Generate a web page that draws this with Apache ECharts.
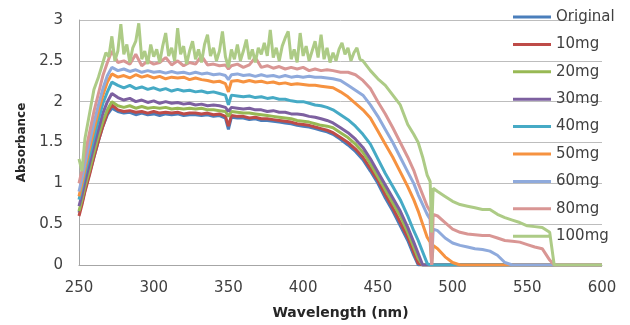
<!DOCTYPE html>
<html>
<head>
<meta charset="utf-8">
<script src="https://cdn.jsdelivr.net/npm/echarts@6/dist/echarts.min.js"></script>
<style>
  html, body { margin: 0; padding: 0; background: #fff; }
  #chart { width: 630px; height: 325px; }
</style>
</head>
<body>
<div id="chart"></div>
<script>
// wavelength sample points (nm), shared by the first eight series
const wl = [
  250, 252, 254, 257, 260, 263, 266, 269, 272,
  276, 280, 284, 288, 292, 296, 300, 304, 308, 312, 316, 320, 324, 328, 332, 336, 340, 344, 348, 350, 352,
  356, 360, 364, 368, 372, 376, 380, 384, 388, 392, 396, 400, 404, 408, 412, 416, 420,
  425, 430, 435, 440, 445, 450, 455, 460, 465, 470, 474, 477, 480, 483, 485, 486, 487,
  490, 495, 500, 505, 510, 515, 520, 525, 530, 535, 540, 545, 550, 555, 560, 565, 568, 570, 600
];

const original = [
  0.64, 0.76, 0.92, 1.12, 1.32, 1.52, 1.70, 1.84, 1.92,
  1.88, 1.86, 1.87, 1.84, 1.86, 1.84, 1.85, 1.83, 1.85, 1.84, 1.85, 1.83, 1.84, 1.84, 1.83, 1.84, 1.82, 1.83, 1.80, 1.66, 1.81,
  1.80, 1.80, 1.78, 1.79, 1.77, 1.77, 1.76, 1.75, 1.74, 1.73, 1.71, 1.70, 1.69, 1.67, 1.65, 1.63, 1.60,
  1.54, 1.47, 1.39, 1.29, 1.15, 1.00, 0.82, 0.66, 0.48, 0.30, 0.12, 0, 0, 0, 0, 0, 0,
  0, 0, 0, 0, 0, 0, 0, 0, 0, 0, 0, 0, 0, 0, 0, 0, 0, 0, 0
];
const mg10 = [
  0.60, 0.74, 0.90, 1.10, 1.32, 1.52, 1.70, 1.86, 1.96,
  1.90, 1.88, 1.89, 1.87, 1.88, 1.86, 1.88, 1.86, 1.87, 1.86, 1.87, 1.85, 1.86, 1.86, 1.85, 1.86, 1.84, 1.85, 1.82, 1.70, 1.83,
  1.82, 1.82, 1.80, 1.81, 1.79, 1.79, 1.78, 1.77, 1.76, 1.75, 1.73, 1.72, 1.71, 1.69, 1.67, 1.65, 1.62,
  1.56, 1.50, 1.42, 1.32, 1.18, 1.04, 0.86, 0.70, 0.52, 0.34, 0.16, 0.02, 0, 0, 0, 0, 0,
  0, 0, 0, 0, 0, 0, 0, 0, 0, 0, 0, 0, 0, 0, 0, 0, 0, 0, 0
];
const mg20 = [
  0.66, 0.80, 0.96, 1.16, 1.38, 1.58, 1.76, 1.90, 2.00,
  1.95, 1.93, 1.95, 1.92, 1.94, 1.92, 1.93, 1.92, 1.93, 1.91, 1.92, 1.91, 1.92, 1.91, 1.92, 1.90, 1.90, 1.89, 1.88, 1.82, 1.88,
  1.87, 1.86, 1.86, 1.85, 1.84, 1.83, 1.82, 1.81, 1.80, 1.79, 1.77, 1.76, 1.75, 1.73, 1.71, 1.70, 1.68,
  1.62, 1.56, 1.48, 1.38, 1.24, 1.08, 0.92, 0.76, 0.60, 0.40, 0.22, 0.08, 0, 0, 0, 0, 0,
  0, 0, 0, 0, 0, 0, 0, 0, 0, 0, 0, 0, 0, 0, 0, 0, 0, 0, 0
];
const mg30 = [
  0.72, 0.86, 1.02, 1.24, 1.46, 1.66, 1.86, 2.00, 2.10,
  2.05, 2.02, 2.04, 2.00, 2.02, 1.99, 2.01, 1.98, 2.00, 1.98, 1.99, 1.97, 1.98, 1.96, 1.97, 1.95, 1.96, 1.95, 1.93, 1.88, 1.93,
  1.92, 1.91, 1.92, 1.90, 1.90, 1.88, 1.89, 1.87, 1.87, 1.85, 1.85, 1.84, 1.82, 1.81, 1.79, 1.77, 1.74,
  1.68, 1.62, 1.54, 1.44, 1.30, 1.14, 0.98, 0.82, 0.66, 0.46, 0.28, 0.14, 0, 0, 0, 0, 0,
  0, 0, 0, 0, 0, 0, 0, 0, 0, 0, 0, 0, 0, 0, 0, 0, 0, 0, 0
];
const mg40 = [
  0.80, 0.95, 1.12, 1.34, 1.56, 1.78, 1.98, 2.12, 2.24,
  2.20, 2.17, 2.20, 2.16, 2.18, 2.15, 2.17, 2.14, 2.16, 2.13, 2.15, 2.13, 2.14, 2.12, 2.13, 2.11, 2.12, 2.10, 2.08, 1.96, 2.08,
  2.07, 2.06, 2.07, 2.05, 2.06, 2.04, 2.05, 2.03, 2.03, 2.01, 2.00, 2.00, 1.98, 1.96, 1.95, 1.93, 1.90,
  1.84, 1.78, 1.70, 1.60, 1.48, 1.30, 1.12, 0.96, 0.80, 0.60, 0.42, 0.30, 0.16, 0.02, 0, 0, 0,
  0, 0, 0, 0, 0, 0, 0, 0, 0, 0, 0, 0, 0, 0, 0, 0, 0, 0, 0
];
const mg50 = [
  0.84, 1.00, 1.18, 1.42, 1.66, 1.88, 2.08, 2.24, 2.34,
  2.30, 2.32, 2.29, 2.33, 2.30, 2.32, 2.29, 2.31, 2.28, 2.30, 2.29, 2.30, 2.27, 2.29, 2.27, 2.26, 2.24, 2.25, 2.22, 2.12, 2.25,
  2.26, 2.24, 2.26, 2.24, 2.25, 2.23, 2.24, 2.22, 2.23, 2.21, 2.22, 2.21, 2.20, 2.20, 2.19, 2.18, 2.17,
  2.12, 2.06, 1.98, 1.90, 1.80, 1.64, 1.48, 1.32, 1.14, 0.96, 0.80, 0.66, 0.50, 0.34, 0.28, 0, 0.24,
  0.20, 0.10, 0.03, 0, 0, 0, 0, 0, 0, 0, 0, 0, 0, 0, 0, 0, 0, 0, 0
];
const mg60 = [
  0.90, 1.06, 1.24, 1.50, 1.74, 1.96, 2.16, 2.32, 2.42,
  2.38, 2.40, 2.37, 2.39, 2.36, 2.38, 2.36, 2.37, 2.35, 2.37, 2.35, 2.36, 2.34, 2.36, 2.34, 2.35, 2.33, 2.34, 2.32, 2.27, 2.33,
  2.34, 2.32, 2.33, 2.31, 2.33, 2.31, 2.32, 2.30, 2.32, 2.30, 2.31, 2.30, 2.31, 2.30, 2.30, 2.29, 2.28,
  2.26, 2.20, 2.14, 2.08, 1.96, 1.82, 1.66, 1.50, 1.32, 1.14, 1.00, 0.86, 0.74, 0.62, 0.56, 0, 0.44,
  0.42, 0.33, 0.27, 0.24, 0.22, 0.20, 0.19, 0.17, 0.12, 0.03, 0, 0, 0, 0, 0, 0, 0, 0, 0
];
const mg80 = [
  1.00, 1.16, 1.36, 1.62, 1.88, 2.10, 2.32, 2.48, 2.62,
  2.48, 2.50, 2.46, 2.58, 2.44, 2.50, 2.46, 2.48, 2.54, 2.45, 2.50, 2.44, 2.48, 2.46, 2.56, 2.45, 2.46, 2.44, 2.45, 2.40, 2.44,
  2.46, 2.42, 2.45, 2.54, 2.42, 2.44, 2.41, 2.43, 2.40, 2.42, 2.40, 2.42, 2.38, 2.40, 2.38, 2.39, 2.38,
  2.36, 2.36, 2.33, 2.26, 2.16, 2.00, 1.85, 1.68, 1.50, 1.32, 1.16, 1.00, 0.86, 0.72, 0.66, 0, 0.62,
  0.60, 0.52, 0.44, 0.40, 0.38, 0.37, 0.36, 0.36, 0.33, 0.30, 0.29, 0.28, 0.25, 0.22, 0.20, 0.06, 0, 0, 0
];

// 100mg is much noisier, so it is read at a finer step
const wl100 = [
  250, 252, 254, 257, 260, 263, 266, 268,
  270, 272, 274, 276, 278, 280, 282, 284, 286, 288,
  290, 292, 294, 296, 298, 300, 302, 304, 306, 308,
  310, 312, 314, 316, 318, 320, 322, 324, 326, 328,
  330, 332, 334, 336, 338, 340, 342, 344, 346, 348,
  350, 352, 354, 356, 358, 360, 362, 364, 366, 368,
  370, 372, 374, 376, 378, 380, 382, 384, 386, 388,
  390, 392, 394, 396, 398, 400, 402, 404, 406, 408,
  410, 412, 414, 416, 418, 420, 422, 424, 426, 428,
  430, 432, 434, 436, 438, 440,
  445, 450, 455, 460, 465, 470, 474, 477, 480, 483, 485, 486, 487,
  490, 495, 500, 505, 510, 515, 520, 525, 530, 535, 540, 545, 550, 555, 560, 565, 568, 570, 600
];
const mg100 = [
  1.30, 1.15, 1.55, 1.85, 2.15, 2.30, 2.48, 2.60,
  2.55, 2.80, 2.50, 2.62, 2.95, 2.58, 2.70, 2.48, 2.66, 2.74,
  2.96, 2.52, 2.62, 2.46, 2.70, 2.55, 2.64, 2.48, 2.68, 2.84,
  2.56, 2.66, 2.50, 2.90, 2.58, 2.68, 2.46, 2.62, 2.74, 2.52,
  2.64, 2.48, 2.70, 2.82, 2.56, 2.66, 2.50, 2.62, 2.86, 2.55,
  2.42, 2.64, 2.52, 2.70, 2.50, 2.62, 2.76, 2.52, 2.64, 2.48,
  2.66, 2.58, 2.72, 2.56, 2.88, 2.54, 2.66, 2.50, 2.68, 2.78,
  2.86, 2.52, 2.64, 2.48, 2.84, 2.56, 2.68, 2.50, 2.62, 2.74,
  2.54, 2.82, 2.52, 2.66, 2.48, 2.60, 2.50, 2.64, 2.72, 2.58,
  2.66, 2.50, 2.60, 2.66, 2.52, 2.50,
  2.38, 2.28, 2.20, 2.08, 1.96, 1.72, 1.60, 1.50, 1.32, 1.10, 1.02, 0.40, 0.94,
  0.90, 0.84, 0.78, 0.74, 0.72, 0.70, 0.68, 0.68, 0.62, 0.58, 0.55, 0.52, 0.48, 0.47, 0.46, 0.40, 0, 0, 0
];

const names = ['Original', '10mg', '20mg', '30mg', '40mg', '50mg', '60mg', '80mg', '100mg'];
const xs = [wl, wl, wl, wl, wl, wl, wl, wl, wl100];
const values = [original, mg10, mg20, mg30, mg40, mg50, mg60, mg80, mg100];
const colors = ['#4A7EBB', '#BE4B48', '#98B954', '#7D60A0', '#46AAC5', '#F69240', '#8FAADC', '#D99694', '#ADCB86'];

const chart = echarts.init(document.getElementById('chart'), null, { renderer: 'canvas' });

const series = names.map((name, k) => ({
  name: name,
  type: 'line',
  showSymbol: false,
  symbol: 'none',
  data: xs[k].map((x, i) => [x, values[k][i]]),
  lineStyle: { width: 3, color: colors[k] },
  itemStyle: { color: colors[k] }
}));

chart.setOption({
  animation: false,
  backgroundColor: '#fff',
  grid: { left: 79, right: 28, top: 20, bottom: 55 },
  legend: {
    data: names,
    orient: 'vertical',
    left: 508,
    top: 4,
    icon: 'rect',
    itemWidth: 38,
    itemHeight: 3,
    itemGap: 11.4,
    textStyle: { fontFamily: 'DejaVu Sans', fontSize: 15, color: '#404040', lineHeight: 16 }
  },
  xAxis: {
    type: 'value',
    min: 250,
    max: 600,
    interval: 50,
    name: 'Wavelength (nm)',
    nameLocation: 'middle',
    nameGap: 41,
    nameTextStyle: { fontFamily: 'DejaVu Sans', fontWeight: 'bold', fontSize: 14, color: '#262626' },
    axisLine: { show: true, lineStyle: { color: '#A6A6A6', width: 1 } },
    axisTick: { show: false },
    axisLabel: { fontFamily: 'DejaVu Sans', fontSize: 15, color: '#404040', margin: 16 },
    splitLine: { show: false }
  },
  yAxis: {
    type: 'value',
    min: 0,
    max: 3,
    interval: 0.5,
    name: 'Absorbance',
    nameLocation: 'middle',
    nameGap: 44,
    nameTextStyle: { fontFamily: 'DejaVu Sans', fontWeight: 'bold', fontSize: 12, color: '#262626' },
    axisLine: { show: true, lineStyle: { color: '#A6A6A6', width: 1 } },
    axisTick: { show: false },
    axisLabel: { fontFamily: 'DejaVu Sans', fontSize: 15, color: '#404040', margin: 16 },
    splitLine: { show: true, lineStyle: { color: '#BDBDBD', width: 1 } }
  },
  series: series
});
</script>
</body>
</html>
